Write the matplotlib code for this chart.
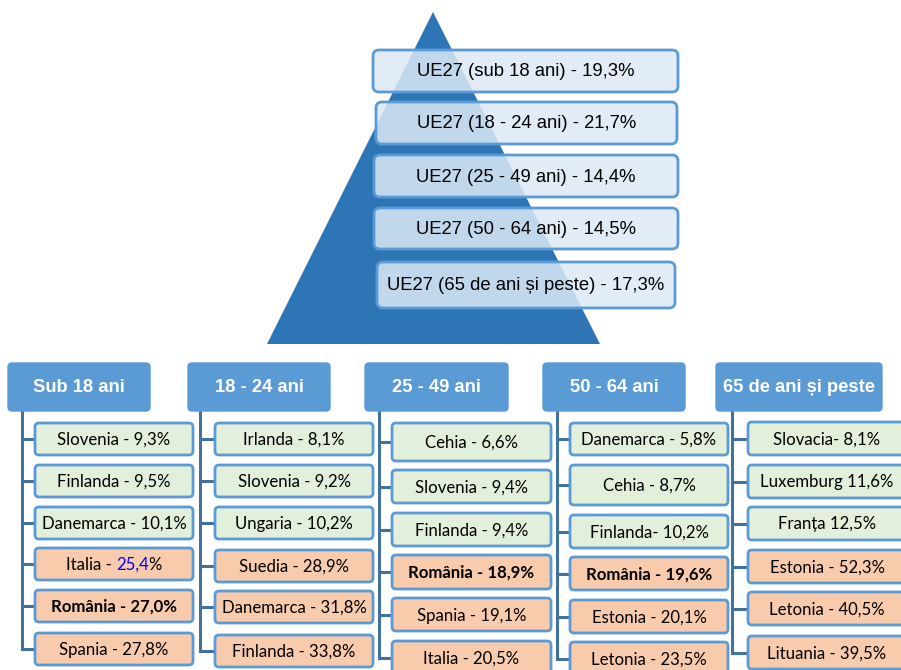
import matplotlib
matplotlib.use("Agg")
import matplotlib.pyplot as plt
from matplotlib.patches import FancyBboxPatch, Polygon

# ---------------- data ----------------
ue27_groups = ["sub 18 ani", "18 - 24 ani", "25 - 49 ani", "50 - 64 ani", "65 de ani și peste"]
ue27_values = ["19,3%", "21,7%", "14,4%", "14,5%", "17,3%"]

group_titles = ["Sub 18 ani", "18 - 24 ani", "25 - 49 ani", "50 - 64 ani", "65 de ani și peste"]

col1_countries = ["Slovenia", "Finlanda", "Danemarca", "Italia", "România", "Spania"]
col1_values = ["9,3%", "9,5%", "10,1%", "25,4", "27,0%", "27,8%"]
col2_countries = ["Irlanda", "Slovenia", "Ungaria", "Suedia", "Danemarca", "Finlanda"]
col2_values = ["8,1%", "9,2%", "10,2%", "28,9%", "31,8%", "33,8%"]
col3_countries = ["Cehia", "Slovenia", "Finlanda", "România", "Spania", "Italia"]
col3_values = ["6,6%", "9,4%", "9,4%", "18,9%", "19,1%", "20,5%"]
col4_countries = ["Danemarca", "Cehia", "Finlanda", "România", "Estonia", "Letonia"]
col4_values = ["5,8%", "8,7%", "10,2%", "19,6%", "20,1%", "23,5%"]
col5_countries = ["Slovacia", "Luxemburg", "Franța", "Estonia", "Letonia", "Lituania"]
col5_values = ["8,1%", "11,6%", "12,5%", "52,3%", "40,5%", "39,5%"]
col4_separators = [" - ", " - ", "- ", " - ", " - ", " - "]
col5_separators = ["- ", " ", " ", " - ", " - ", " - "]

# ---------------- layout ----------------
W, H = 901, 670
fig = plt.figure(figsize=(W / 100, H / 100), dpi=100)
ax = fig.add_axes([0, 0, 1, 1])
ax.set_xlim(0, W)
ax.set_ylim(H, 0)
ax.axis("off")

PYR = "#2e75b6"
BORDER = "#5b9bd5"
HEAD = "#5b9bd5"
TREE = "#41719c"
GREEN = "#e2efda"
ORANGE = "#f8cbad"

# pyramid
ax.add_patch(Polygon([(433, 12), (267, 344), (600, 344)], closed=True,
                     facecolor=PYR, edgecolor="none", zorder=1))

ue_boxes = [(373, 50, 305, 42), (376, 102, 301, 42), (374, 155, 304, 42),
            (374, 208, 304, 41), (377, 262, 298, 46)]
for (x, y, w, h), g, v in zip(ue_boxes, ue27_groups, ue27_values):
    ax.add_patch(FancyBboxPatch((x + 3, y + 3), w - 6, h - 6,
                                boxstyle="round,pad=3,rounding_size=6",
                                facecolor="#dce9f6", alpha=0.85, edgecolor="none", zorder=2))
    ax.add_patch(FancyBboxPatch((x + 3, y + 3), w - 6, h - 6,
                                boxstyle="round,pad=3,rounding_size=6",
                                facecolor="none", edgecolor=BORDER, linewidth=2, zorder=3))
    ax.text(x + w / 2, y + h / 2 + 1, f"UE27 ({g}) - {v}", ha="center", va="center",
            fontsize=13.3, family="Liberation Sans", color="black", zorder=4)

# headers
head_x = [(8, 150), (188, 330), (365, 508), (543, 685), (716, 882)]
head_y = (363, 411)
for (x0, x1), t in zip(head_x, group_titles):
    ax.add_patch(FancyBboxPatch((x0 + 2, head_y[0] + 2), x1 - x0 - 4, head_y[1] - head_y[0] - 4,
                                boxstyle="round,pad=2,rounding_size=4",
                                facecolor=HEAD, edgecolor=HEAD, linewidth=1, zorder=2))
    ax.text((x0 + x1) / 2, (head_y[0] + head_y[1]) / 2 + 1, t, ha="center", va="center",
            fontsize=13.2, family="Liberation Sans", fontweight="bold", color="white", zorder=4)

columns = [
    (col1_countries, col1_values, [" - "] * 6),
    (col2_countries, col2_values, [" - "] * 6),
    (col3_countries, col3_values, [" - "] * 6),
    (col4_countries, col4_values, col4_separators),
    (col5_countries, col5_values, col5_separators),
]
tree_x = [22, 200, 379, 557, 732]
box_x = [(35, 193), (215, 373), (392, 551), (570, 728), (748, 906)]
box_tops = [[423, 465, 507, 548, 590, 633],
            [423, 465, 507, 550, 591, 635],
            [423, 470, 513, 555, 598, 641],
            [423, 465, 515, 557, 600, 642],
            [422, 465, 507, 550, 592, 636]]
box_h = [[32] * 6,
         [32] * 6,
         [38, 33, 33, 34, 33, 33],
         [32, 40, 33, 33, 33, 33],
         [33] * 6]

fig.canvas.draw()
renderer = fig.canvas.get_renderer()
FS = 12.1
FAM = "Lato"

for ci, (countries, values, seps) in enumerate(columns):
    x0, x1 = box_x[ci]
    tx = tree_x[ci]
    centers = []
    for ri, (c, v) in enumerate(zip(countries, values)):
        top = box_tops[ci][ri]
        h = box_h[ci][ri]
        fill = GREEN if ri < 3 else ORANGE
        ax.add_patch(FancyBboxPatch((x0 + 3, top + 3), x1 - x0 - 6, h - 6,
                                    boxstyle="round,pad=3,rounding_size=4",
                                    facecolor=fill, edgecolor=BORDER, linewidth=2, zorder=2))
        cy = top + h / 2
        centers.append(cy)
        ax.plot([tx, x0], [cy, cy], color=TREE, linewidth=2.2, zorder=1, solid_capstyle="butt")
        bold = c == "România"
        label = f"{c}{seps[ri]}{v}"
        if ci == 0 and c == "Italia":
            parts = [(f"{c}{seps[ri]}", "black"), (v, "blue"), ("%", "black")]
            texts = []
            for s, col in parts:
                texts.append(ax.text(0, cy + 1, s, ha="left", va="center", fontsize=FS,
                                     family=FAM, color=col, zorder=4))
            widths = [t.get_window_extent(renderer).width for t in texts]
            total = sum(widths)
            start = (x0 + x1) / 2 - total / 2
            for t, wd in zip(texts, widths):
                t.set_x(start)
                start += wd
        else:
            ax.text((x0 + x1) / 2, cy + 1, label, ha="center", va="center", fontsize=FS,
                    family=FAM, fontweight="bold" if bold else "normal", color="black",
                    zorder=4)
    ax.plot([tx, tx], [head_y[1], centers[-1]], color=TREE, linewidth=2.2, zorder=1,
            solid_capstyle="projecting")

fig.savefig("out.png", dpi=100)
